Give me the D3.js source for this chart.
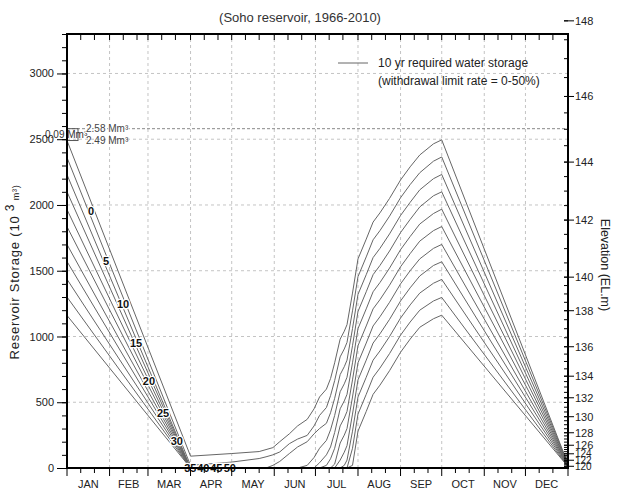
<!DOCTYPE html>
<html>
<head>
<meta charset="utf-8">
<script src="https://cdnjs.cloudflare.com/ajax/libs/d3/7.8.5/d3.min.js"></script>
<style>
  body { margin: 0; background: #fff; }
  svg { font-family: "Liberation Sans", Arial, sans-serif; }
</style>
</head>
<body>
<div id="chart"></div>
<script>
// chart size
var width = 617, height = 492;
var margin = {top: 34, right: 49, bottom: 24, left: 67};

// day of year for every sample
var days = [0, 90, 120, 140, 145, 150, 155, 162, 168, 175, 180, 184, 189, 192, 195, 199, 202, 204, 208, 212, 218, 223, 228, 235, 243, 250, 257, 267, 273, 365];

// required storage (10^3 m3) per withdrawal limit rate
var rates = [0, 5, 10, 15, 20, 25, 30, 35, 40, 45, 50];
var s0  = [2490, 90, 110, 125, 140, 155, 200, 260, 320, 370, 450, 540, 600, 680, 800, 980, 1040, 1090, 1330, 1590, 1740, 1870, 1940, 2050, 2190, 2290, 2380, 2465, 2495, 30];
var s5  = [2360, 20, 45, 72, 85, 100, 122, 185, 220, 248, 320, 400, 460, 550, 665, 845, 905, 955, 1195, 1455, 1605, 1735, 1805, 1915, 2055, 2155, 2245, 2333, 2365, 28];
var s10 = [2230, 0, 0, 0, 0, 20, 50, 110, 160, 200, 260, 300, 340, 420, 530, 710, 770, 820, 1060, 1320, 1470, 1600, 1670, 1780, 1920, 2020, 2115, 2200, 2232, 25];
var s15 = [2100, 0, 0, 0, 0, 0, 0, 0, 0, 20, 80, 150, 210, 290, 400, 580, 640, 690, 930, 1190, 1340, 1470, 1540, 1650, 1790, 1890, 1985, 2070, 2100, 22];
var s20 = [1965, 0, 0, 0, 0, 0, 0, 0, 0, 0, 0, 40, 100, 160, 270, 450, 510, 560, 800, 1060, 1210, 1340, 1410, 1520, 1660, 1760, 1855, 1935, 1968, 20];
var s25 = [1835, 0, 0, 0, 0, 0, 0, 0, 0, 0, 0, 0, 20, 70, 150, 320, 380, 430, 670, 930, 1080, 1210, 1280, 1390, 1530, 1630, 1725, 1805, 1836, 18];
var s30 = [1700, 0, 0, 0, 0, 0, 0, 0, 0, 0, 0, 0, 0, 0, 30, 190, 250, 300, 540, 800, 950, 1080, 1150, 1260, 1400, 1500, 1590, 1670, 1700, 16];
var s35 = [1570, 0, 0, 0, 0, 0, 0, 0, 0, 0, 0, 0, 0, 0, 0, 60, 120, 170, 410, 670, 820, 950, 1020, 1130, 1270, 1370, 1460, 1540, 1568, 14];
var s40 = [1435, 0, 0, 0, 0, 0, 0, 0, 0, 0, 0, 0, 0, 0, 0, 0, 20, 60, 280, 540, 690, 820, 890, 1000, 1140, 1240, 1330, 1405, 1434, 12];
var s45 = [1300, 0, 0, 0, 0, 0, 0, 0, 0, 0, 0, 0, 0, 0, 0, 0, 0, 0, 150, 410, 560, 690, 760, 870, 1010, 1110, 1200, 1270, 1297, 10];
var s50 = [1160, 0, 0, 0, 0, 0, 0, 0, 0, 0, 0, 0, 0, 0, 0, 0, 0, 0, 20, 280, 430, 560, 630, 740, 880, 980, 1070, 1135, 1162, 10];
var series = [s0, s5, s10, s15, s20, s25, s30, s35, s40, s45, s50];

// where the rate labels sit (day, storage)
var labelDays = [17.5, 28.4, 40.8, 50.3, 59.7, 70, 80, 89.8, 99.3, 108.8, 118.6];
var labelStorage = [1953, 1573, 1245, 949, 660, 416, 203, 0, 0, 0, 0];

// axes
var months = ["JAN", "FEB", "MAR", "APR", "MAY", "JUN", "JUL", "AUG", "SEP", "OCT", "NOV", "DEC"];
var monthStart = [0, 31, 59, 90, 120, 151, 181, 212, 243, 273, 304, 334, 365];
var storageTicks = [0, 500, 1000, 1500, 2000, 2500, 3000];
var elevTicks = [120, 122, 124, 126, 128, 130, 132, 134, 136, 138, 140, 142, 144, 146, 148];
var elevStorage = [13, 59, 108, 173, 268, 390, 534, 698, 922, 1196, 1451, 1885, 2326, 2825, 3400];

// reference levels (10^3 m3)
var fullLevel = 2580, startLevel = 2490;

var svg = d3.select("#chart").append("svg")
    .attr("width", width)
    .attr("height", height);

var x = d3.scaleLinear().domain([0, 365]).range([margin.left, width - margin.right]);
var y = d3.scaleLinear().domain([0, 3300]).range([height - margin.bottom, margin.top]);
var elev = d3.scaleLinear().domain(elevTicks).range(elevStorage);

var x0 = x.range()[0], x1 = x.range()[1];
var y0 = y.range()[0], y1 = y.range()[1];

// grid
svg.append("g").selectAll("line")
    .data(storageTicks.filter(d => d > 0))
    .enter().append("line")
    .attr("x1", x0).attr("x2", x1)
    .attr("y1", d => y(d)).attr("y2", d => y(d))
    .attr("stroke", "#c4c4c4").attr("stroke-dasharray", "3,3");

svg.append("g").selectAll("line")
    .data(monthStart.slice(1, 12))
    .enter().append("line")
    .attr("x1", d => x(d)).attr("x2", d => x(d))
    .attr("y1", y0).attr("y2", y1)
    .attr("stroke", "#c4c4c4").attr("stroke-dasharray", "3,3");

// 2.58 Mm3 level
svg.append("line")
    .attr("x1", x0).attr("x2", x1)
    .attr("y1", y(fullLevel)).attr("y2", y(fullLevel))
    .attr("stroke", "#888").attr("stroke-dasharray", "3,2");

// curves
var line = d3.line()
    .x((d, i) => x(days[i]))
    .y(d => y(d));

svg.append("g").selectAll("path")
    .data(series)
    .enter().append("path")
    .attr("d", line)
    .attr("fill", "none")
    .attr("stroke", "#666")
    .attr("stroke-width", 1);

// rate labels on the curves
svg.append("g").selectAll("text")
    .data(rates)
    .enter().append("text")
    .attr("x", (d, i) => x(labelDays[i]))
    .attr("y", (d, i) => y(labelStorage[i]))
    .attr("dy", "0.36em")
    .attr("text-anchor", "middle")
    .attr("font-size", 11)
    .attr("font-weight", "bold")
    .attr("fill", "#111")
    .attr("stroke", "#fff").attr("stroke-width", 2.5)
    .attr("paint-order", "stroke")
    .text(d => d);

// annotation at the top of the storage axis
svg.append("rect")
    .attr("x", x0).attr("y", y(fullLevel))
    .attr("width", 11).attr("height", y(startLevel) - y(fullLevel))
    .attr("fill", "none").attr("stroke", "#555");
svg.append("text")
    .attr("x", x0 - 22).attr("y", (y(fullLevel) + y(startLevel)) / 2)
    .attr("dy", "0.36em")
    .attr("font-size", 10).attr("fill", "#333")
    .text("0.09 Mm\u00b3");
svg.append("text")
    .attr("x", x0 + 19).attr("y", y(fullLevel))
    .attr("dy", "0.36em")
    .attr("font-size", 10).attr("fill", "#444")
    .attr("stroke", "#fff").attr("stroke-width", 2).attr("paint-order", "stroke")
    .text("2.58 Mm\u00b3");
svg.append("text")
    .attr("x", x0 + 19).attr("y", y(startLevel))
    .attr("dy", "0.36em")
    .attr("font-size", 10).attr("fill", "#444")
    .text("2.49 Mm\u00b3");

// frame
svg.append("rect")
    .attr("x", x0).attr("y", y1)
    .attr("width", x1 - x0).attr("height", y0 - y1)
    .attr("fill", "none").attr("stroke", "#000").attr("stroke-width", 2);

// bottom and top ticks: 1st, 11th, 21st of each month
var tickDays = [];
monthStart.slice(0, 12).forEach(function(m) { tickDays.push(m, m + 10, m + 20); });
tickDays.push(365);

svg.append("g").selectAll("line")
    .data(tickDays)
    .enter().append("line")
    .attr("x1", d => x(d)).attr("x2", d => x(d))
    .attr("y1", y0)
    .attr("y2", d => y0 + (monthStart.indexOf(d) >= 0 ? 8 : 5))
    .attr("stroke", "#000");

svg.append("g").selectAll("line")
    .data(tickDays)
    .enter().append("line")
    .attr("x1", d => x(d)).attr("x2", d => x(d))
    .attr("y1", y1).attr("y2", y1 + 6)
    .attr("stroke", "#000");

svg.append("g").selectAll("text")
    .data(months)
    .enter().append("text")
    .attr("x", (d, i) => x((monthStart[i] + monthStart[i + 1]) / 2))
    .attr("y", y0 + 20)
    .attr("text-anchor", "middle")
    .attr("font-size", 11).attr("fill", "#222")
    .text(d => d);

// left axis
svg.append("g")
    .attr("transform", "translate(" + x0 + ",0)")
    .call(d3.axisLeft(y).tickValues(d3.range(0, 3301, 100)).tickSize(5).tickFormat(""))
    .call(g => g.select(".domain").remove());
svg.append("g")
    .attr("transform", "translate(" + x0 + ",0)")
    .call(d3.axisLeft(y).tickValues(storageTicks).tickSize(10).tickPadding(3).tickFormat(d3.format("d")))
    .call(g => g.select(".domain").remove())
    .call(g => g.selectAll("text").attr("font-size", 11).attr("fill", "#222").attr("font-family", null));

svg.append("text")
    .attr("transform", "translate(19,272) rotate(-90)")
    .attr("text-anchor", "middle")
    .attr("font-size", 13).attr("fill", "#222")
    .attr("letter-spacing", 0.8)
    .text("Reservoir Storage (10 ")
    .call(t => t.append("tspan").attr("dy", -5).attr("font-size", 12).text("3"))
    .call(t => t.append("tspan").attr("dy", 5).attr("font-size", 9).text(" m\u00b3)"));

// right axis (elevation)
var minorElev = d3.range(120, 148.01, 0.5);
svg.append("g").selectAll("line")
    .data(minorElev)
    .enter().append("line")
    .attr("x1", x1 - 4).attr("x2", x1)
    .attr("y1", d => y(elev(d))).attr("y2", d => y(elev(d)))
    .attr("stroke", "#000");
svg.append("g").selectAll("line")
    .data(elevTicks)
    .enter().append("line")
    .attr("x1", x1 - 4).attr("x2", x1 + 6)
    .attr("y1", d => y(elev(d))).attr("y2", d => y(elev(d)))
    .attr("stroke", "#000");
svg.append("g").selectAll("text")
    .data(elevTicks)
    .enter().append("text")
    .attr("x", x1 + 7)
    .attr("y", d => y(elev(d)))
    .attr("dy", "0.36em")
    .attr("font-size", d => d < 126 ? 10 : 11).attr("fill", "#222")
    .text(d => d);

svg.append("text")
    .attr("transform", "translate(601,265) rotate(90)")
    .attr("text-anchor", "middle")
    .attr("font-size", 12.5).attr("fill", "#222")
    .text("Elevation (EL.m)");

// title
svg.append("text")
    .attr("x", 300).attr("y", 22)
    .attr("text-anchor", "middle")
    .attr("font-size", 13).attr("fill", "#333")
    .text("(Soho reservoir, 1966-2010)");

// legend
svg.append("line")
    .attr("x1", 338).attr("x2", 368)
    .attr("y1", 63).attr("y2", 63)
    .attr("stroke", "#666");
svg.append("text")
    .attr("x", 378).attr("y", 63).attr("dy", "0.36em")
    .attr("font-size", 12).attr("fill", "#222")
    .text("10 yr required water storage");
svg.append("text")
    .attr("x", 378).attr("y", 81).attr("dy", "0.36em")
    .attr("font-size", 12).attr("fill", "#222")
    .text("(withdrawal limit rate = 0-50%)");
</script>
</body>
</html>
